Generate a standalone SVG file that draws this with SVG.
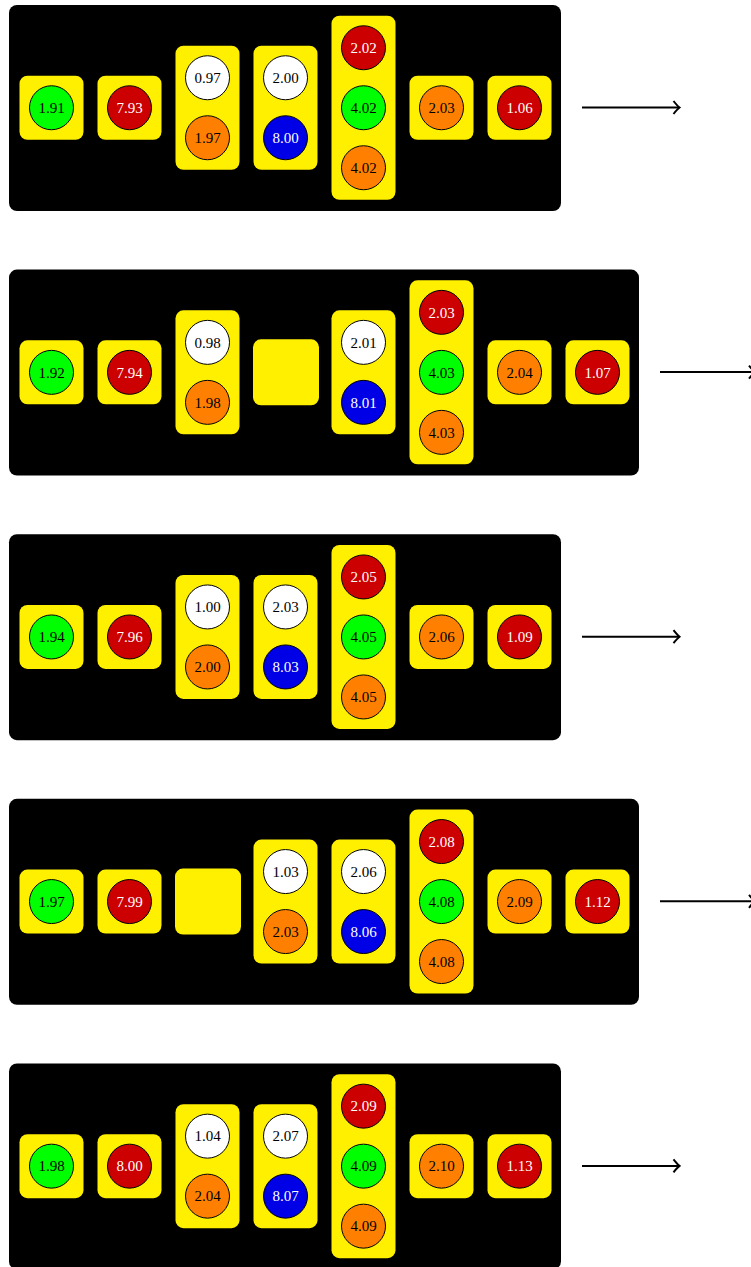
<svg xmlns="http://www.w3.org/2000/svg" width="751" height="1267" viewBox="0 0 751 1267">
<style>
.bg{fill:#000}
.box{fill:#fff000}
circle{stroke:#000;stroke-width:1}
.g{fill:#00ff00}.r{fill:#cc0000}.o{fill:#ff8000}.w{fill:#fff}.b{fill:#0000e6}
text{font-family:"Liberation Serif","Times New Roman",serif;font-size:15px;text-anchor:middle}
.tl{fill:#fff}.td{fill:#000}
.arr{stroke:#000;stroke-width:2;fill:none}
</style>
<defs>
<marker id="ah" viewBox="-8 -8 10 16" markerWidth="10" markerHeight="16" refX="0" refY="0" orient="auto" markerUnits="userSpaceOnUse">
<path d="M-6,-6.5 Q-2,-1.5 0,0 Q-2,1.5 -6,6.5" stroke="#000" stroke-width="2" fill="none"/>
</marker>
</defs>

<!-- Row 1 -->
<g id="row1" transform="translate(0,0)">
<rect class="bg" x="9" y="5" width="552" height="206" rx="8"/>
<g id="r1n1"><rect class="box" x="19.5" y="75.75" width="64" height="64" rx="8"/><circle class="g" cx="51.5" cy="107.75" r="22"/><text class="td" x="51.5" y="113">1.91</text></g>
<g id="r1n2"><rect class="box" x="97.5" y="75.75" width="64" height="64" rx="8"/><circle class="r" cx="129.5" cy="107.75" r="22"/><text class="tl" x="129.5" y="113">7.93</text></g>
<g id="r1n3"><rect class="box" x="175.5" y="45.75" width="64" height="124" rx="8"/><circle class="w" cx="207.5" cy="77.75" r="22"/><text class="td" x="207.5" y="83">0.97</text><circle class="o" cx="207.5" cy="137.75" r="22"/><text class="td" x="207.5" y="143">1.97</text></g>
<g id="r1n4"><rect class="box" x="253.5" y="45.75" width="64" height="124" rx="8"/><circle class="w" cx="285.5" cy="77.75" r="22"/><text class="td" x="285.5" y="83">2.00</text><circle class="b" cx="285.5" cy="137.75" r="22"/><text class="tl" x="285.5" y="143">8.00</text></g>
<g id="r1n5"><rect class="box" x="331.5" y="15.75" width="64" height="184" rx="8"/><circle class="r" cx="363.5" cy="47.75" r="22"/><text class="tl" x="363.5" y="53">2.02</text><circle class="g" cx="363.5" cy="107.75" r="22"/><text class="td" x="363.5" y="113">4.02</text><circle class="o" cx="363.5" cy="167.75" r="22"/><text class="td" x="363.5" y="173">4.02</text></g>
<g id="r1n6"><rect class="box" x="409.5" y="75.75" width="64" height="64" rx="8"/><circle class="o" cx="441.5" cy="107.75" r="22"/><text class="td" x="441.5" y="113">2.03</text></g>
<g id="r1n7"><rect class="box" x="487.5" y="75.75" width="64" height="64" rx="8"/><circle class="r" cx="519.5" cy="107.75" r="22"/><text class="tl" x="519.5" y="113">1.06</text></g>
</g>

<!-- Row 2 -->
<g id="row2" transform="translate(0,264.6)">
<rect class="bg" x="9" y="5" width="630" height="206" rx="8"/>
<g id="r2n1"><rect class="box" x="19.5" y="75.75" width="64" height="64" rx="8"/><circle class="g" cx="51.5" cy="107.75" r="22"/><text class="td" x="51.5" y="113">1.92</text></g>
<g id="r2n2"><rect class="box" x="97.5" y="75.75" width="64" height="64" rx="8"/><circle class="r" cx="129.5" cy="107.75" r="22"/><text class="tl" x="129.5" y="113">7.94</text></g>
<g id="r2n3"><rect class="box" x="175.5" y="45.75" width="64" height="124" rx="8"/><circle class="w" cx="207.5" cy="77.75" r="22"/><text class="td" x="207.5" y="83">0.98</text><circle class="o" cx="207.5" cy="137.75" r="22"/><text class="td" x="207.5" y="143">1.98</text></g>
<g id="r2n4"><rect class="box" x="253" y="74.75" width="66" height="66" rx="8"/></g>
<g id="r2n5"><rect class="box" x="331.5" y="45.75" width="64" height="124" rx="8"/><circle class="w" cx="363.5" cy="77.75" r="22"/><text class="td" x="363.5" y="83">2.01</text><circle class="b" cx="363.5" cy="137.75" r="22"/><text class="tl" x="363.5" y="143">8.01</text></g>
<g id="r2n6"><rect class="box" x="409.5" y="15.75" width="64" height="184" rx="8"/><circle class="r" cx="441.5" cy="47.75" r="22"/><text class="tl" x="441.5" y="53">2.03</text><circle class="g" cx="441.5" cy="107.75" r="22"/><text class="td" x="441.5" y="113">4.03</text><circle class="o" cx="441.5" cy="167.75" r="22"/><text class="td" x="441.5" y="173">4.03</text></g>
<g id="r2n7"><rect class="box" x="487.5" y="75.75" width="64" height="64" rx="8"/><circle class="o" cx="519.5" cy="107.75" r="22"/><text class="td" x="519.5" y="113">2.04</text></g>
<g id="r2n8"><rect class="box" x="565.5" y="75.75" width="64" height="64" rx="8"/><circle class="r" cx="597.5" cy="107.75" r="22"/><text class="tl" x="597.5" y="113">1.07</text></g>
</g>

<!-- Row 3 -->
<g id="row3" transform="translate(0,529.2)">
<rect class="bg" x="9" y="5" width="552" height="206" rx="8"/>
<g id="r3n1"><rect class="box" x="19.5" y="75.75" width="64" height="64" rx="8"/><circle class="g" cx="51.5" cy="107.75" r="22"/><text class="td" x="51.5" y="113">1.94</text></g>
<g id="r3n2"><rect class="box" x="97.5" y="75.75" width="64" height="64" rx="8"/><circle class="r" cx="129.5" cy="107.75" r="22"/><text class="tl" x="129.5" y="113">7.96</text></g>
<g id="r3n3"><rect class="box" x="175.5" y="45.75" width="64" height="124" rx="8"/><circle class="w" cx="207.5" cy="77.75" r="22"/><text class="td" x="207.5" y="83">1.00</text><circle class="o" cx="207.5" cy="137.75" r="22"/><text class="td" x="207.5" y="143">2.00</text></g>
<g id="r3n4"><rect class="box" x="253.5" y="45.75" width="64" height="124" rx="8"/><circle class="w" cx="285.5" cy="77.75" r="22"/><text class="td" x="285.5" y="83">2.03</text><circle class="b" cx="285.5" cy="137.75" r="22"/><text class="tl" x="285.5" y="143">8.03</text></g>
<g id="r3n5"><rect class="box" x="331.5" y="15.75" width="64" height="184" rx="8"/><circle class="r" cx="363.5" cy="47.75" r="22"/><text class="tl" x="363.5" y="53">2.05</text><circle class="g" cx="363.5" cy="107.75" r="22"/><text class="td" x="363.5" y="113">4.05</text><circle class="o" cx="363.5" cy="167.75" r="22"/><text class="td" x="363.5" y="173">4.05</text></g>
<g id="r3n6"><rect class="box" x="409.5" y="75.75" width="64" height="64" rx="8"/><circle class="o" cx="441.5" cy="107.75" r="22"/><text class="td" x="441.5" y="113">2.06</text></g>
<g id="r3n7"><rect class="box" x="487.5" y="75.75" width="64" height="64" rx="8"/><circle class="r" cx="519.5" cy="107.75" r="22"/><text class="tl" x="519.5" y="113">1.09</text></g>
</g>

<!-- Row 4 -->
<g id="row4" transform="translate(0,793.8)">
<rect class="bg" x="9" y="5" width="630" height="206" rx="8"/>
<g id="r4n1"><rect class="box" x="19.5" y="75.75" width="64" height="64" rx="8"/><circle class="g" cx="51.5" cy="107.75" r="22"/><text class="td" x="51.5" y="113">1.97</text></g>
<g id="r4n2"><rect class="box" x="97.5" y="75.75" width="64" height="64" rx="8"/><circle class="r" cx="129.5" cy="107.75" r="22"/><text class="tl" x="129.5" y="113">7.99</text></g>
<g id="r4n3"><rect class="box" x="175" y="74.75" width="66" height="66" rx="8"/></g>
<g id="r4n4"><rect class="box" x="253.5" y="45.75" width="64" height="124" rx="8"/><circle class="w" cx="285.5" cy="77.75" r="22"/><text class="td" x="285.5" y="83">1.03</text><circle class="o" cx="285.5" cy="137.75" r="22"/><text class="td" x="285.5" y="143">2.03</text></g>
<g id="r4n5"><rect class="box" x="331.5" y="45.75" width="64" height="124" rx="8"/><circle class="w" cx="363.5" cy="77.75" r="22"/><text class="td" x="363.5" y="83">2.06</text><circle class="b" cx="363.5" cy="137.75" r="22"/><text class="tl" x="363.5" y="143">8.06</text></g>
<g id="r4n6"><rect class="box" x="409.5" y="15.75" width="64" height="184" rx="8"/><circle class="r" cx="441.5" cy="47.75" r="22"/><text class="tl" x="441.5" y="53">2.08</text><circle class="g" cx="441.5" cy="107.75" r="22"/><text class="td" x="441.5" y="113">4.08</text><circle class="o" cx="441.5" cy="167.75" r="22"/><text class="td" x="441.5" y="173">4.08</text></g>
<g id="r4n7"><rect class="box" x="487.5" y="75.75" width="64" height="64" rx="8"/><circle class="o" cx="519.5" cy="107.75" r="22"/><text class="td" x="519.5" y="113">2.09</text></g>
<g id="r4n8"><rect class="box" x="565.5" y="75.75" width="64" height="64" rx="8"/><circle class="r" cx="597.5" cy="107.75" r="22"/><text class="tl" x="597.5" y="113">1.12</text></g>
</g>

<!-- Row 5 -->
<g id="row5" transform="translate(0,1058.4)">
<rect class="bg" x="9" y="5" width="552" height="206" rx="8"/>
<g id="r5n1"><rect class="box" x="19.5" y="75.75" width="64" height="64" rx="8"/><circle class="g" cx="51.5" cy="107.75" r="22"/><text class="td" x="51.5" y="113">1.98</text></g>
<g id="r5n2"><rect class="box" x="97.5" y="75.75" width="64" height="64" rx="8"/><circle class="r" cx="129.5" cy="107.75" r="22"/><text class="tl" x="129.5" y="113">8.00</text></g>
<g id="r5n3"><rect class="box" x="175.5" y="45.75" width="64" height="124" rx="8"/><circle class="w" cx="207.5" cy="77.75" r="22"/><text class="td" x="207.5" y="83">1.04</text><circle class="o" cx="207.5" cy="137.75" r="22"/><text class="td" x="207.5" y="143">2.04</text></g>
<g id="r5n4"><rect class="box" x="253.5" y="45.75" width="64" height="124" rx="8"/><circle class="w" cx="285.5" cy="77.75" r="22"/><text class="td" x="285.5" y="83">2.07</text><circle class="b" cx="285.5" cy="137.75" r="22"/><text class="tl" x="285.5" y="143">8.07</text></g>
<g id="r5n5"><rect class="box" x="331.5" y="15.75" width="64" height="184" rx="8"/><circle class="r" cx="363.5" cy="47.75" r="22"/><text class="tl" x="363.5" y="53">2.09</text><circle class="g" cx="363.5" cy="107.75" r="22"/><text class="td" x="363.5" y="113">4.09</text><circle class="o" cx="363.5" cy="167.75" r="22"/><text class="td" x="363.5" y="173">4.09</text></g>
<g id="r5n6"><rect class="box" x="409.5" y="75.75" width="64" height="64" rx="8"/><circle class="o" cx="441.5" cy="107.75" r="22"/><text class="td" x="441.5" y="113">2.10</text></g>
<g id="r5n7"><rect class="box" x="487.5" y="75.75" width="64" height="64" rx="8"/><circle class="r" cx="519.5" cy="107.75" r="22"/><text class="tl" x="519.5" y="113">1.13</text></g>
</g>

<!-- Connectors -->
<g id="connectors">
<line class="arr" x1="582" y1="107.5" x2="679.5" y2="107.5" marker-end="url(#ah)"/>
<line class="arr" x1="660" y1="372.1" x2="755" y2="372.1" marker-end="url(#ah)"/>
<line class="arr" x1="582" y1="636.7" x2="679.5" y2="636.7" marker-end="url(#ah)"/>
<line class="arr" x1="660" y1="901.3" x2="755" y2="901.3" marker-end="url(#ah)"/>
<line class="arr" x1="582" y1="1165.9" x2="679.5" y2="1165.9" marker-end="url(#ah)"/>
</g>
</svg>
